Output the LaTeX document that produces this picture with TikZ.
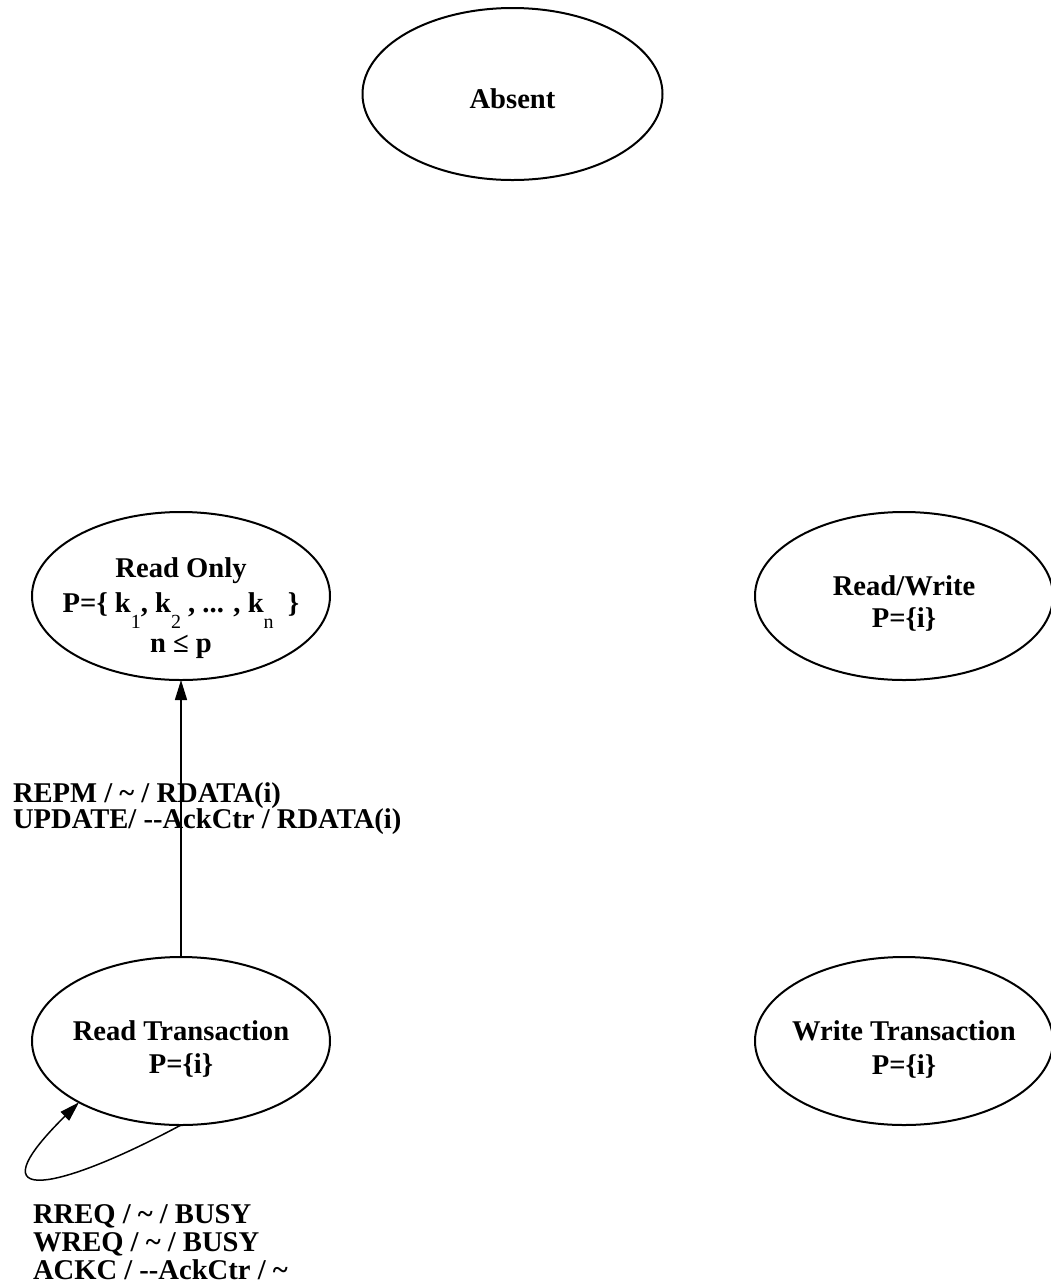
\documentclass[tikz,border=0pt]{standalone}
\usepackage{fontspec}
\setmainfont{Liberation Serif}
\usetikzlibrary{shapes.geometric,arrows.meta}

\newcommand\Lstack[2]{\vtop{\baselineskip=#1\lineskiplimit=-100pt\halign{##\hfil\cr#2\crcr}}}
\newcommand\Cstack[2]{\vtop{\baselineskip=#1\lineskiplimit=-100pt\halign{\hfil##\hfil\cr#2\crcr}}}
\newcommand\sbx[1]{\raisebox{-8pt}[0pt][0pt]{\mdseries\fontsize{10}{10}\selectfont #1}}
\newcommand\tld{\textasciitilde}
\newcommand\ctext[3]{\makebox[0pt]{\raisebox{#1}[0pt][0pt]{\Cstack{#2}{#3}}}}

\tikzset{
  statebox/.style={draw, ellipse, line width=1pt, inner sep=0pt, outer sep=0pt,
    minimum width=149pt, minimum height=84pt,
    font=\bfseries\fontsize{14.3}{16}\selectfont},
  lbl/.style={anchor=base west, inner sep=0pt, outer sep=0pt,
    font=\bfseries\fontsize{14.3}{14}\selectfont},
  arr/.style={line width=0.75pt, -{Triangle[length=10pt,width=6pt]}},
}

\begin{document}
\begin{tikzpicture}[x=0.5pt,y=-0.5pt]
\useasboundingbox (0,0) rectangle (1051,1287);

\node[statebox, minimum width=150pt, minimum height=86pt] (ab) at (512.5,94)
  {\ctext{-7pt}{16pt}{Absent}};

\node[statebox] (ro) at (181,596)
  {\ctext{9.5pt}{16pt}{Read Only\cr\noalign{\vskip1.5pt}
   P=\{ k\sbx{1}, k\sbx{2} , ... , k\sbx{n}\ \ \}\cr\noalign{\vskip4pt}
   n ≤ p}};

\node[statebox] (rw) at (904,596)
  {\ctext{0.5pt}{16pt}{Read/Write\cr P=\{i\}}};

\node[statebox] (rt) at (181,1041)
  {\ctext{0.5pt}{16.5pt}{Read Transaction\cr P=\{i\}}};

\node[statebox] (wt) at (904,1041)
  {\ctext{0.5pt}{17pt}{Write Transaction\cr P=\{i\}}};

\draw[arr] (rt) -- (ro);
\draw[arr] (rt.south) .. controls (60,1190) and (-30,1210) .. (rt.211);

\node[lbl] (l1) at (13,802)
  {\Lstack{13pt}{REPM / \tld{} / RDATA(i)\cr UPDATE/ -{}-AckCtr / RDATA(i)}};

\node[lbl] (l2) at (33,1223)
  {\Lstack{14pt}{RREQ / \tld{} / BUSY\cr WREQ / \tld{} / BUSY\cr ACKC / -{}-AckCtr / \tld}};
\end{tikzpicture}
\end{document}
